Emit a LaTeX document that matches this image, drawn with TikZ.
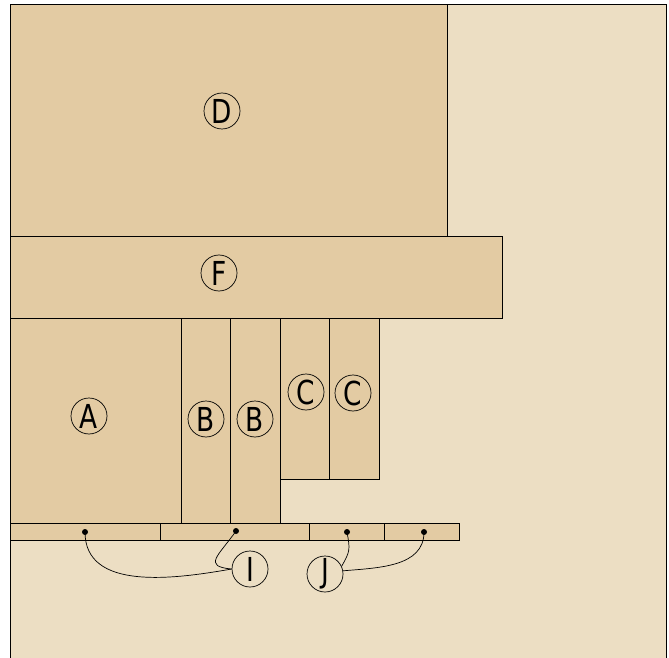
\documentclass[tikz,border=0pt]{standalone}
\usepackage{fontspec}
\newfontfamily\lblfont[FakeStretch=0.8]{DejaVu Sans}
\definecolor{boardtan}{RGB}{227,203,163}
\definecolor{groundtan}{RGB}{236,222,195}
\tikzset{
    part/.style={draw=black, fill=boardtan, line width=0.8pt},
    tag/.style={draw, circle, line width=0.7pt, minimum size=36pt, inner sep=0pt, font=\lblfont\fontsize{33}{33}\selectfont},
    pin/.style={circle, fill=black, inner sep=0pt, minimum size=6pt},
    link/.style={line width=0.7pt}
}
\begin{document}
\begin{tikzpicture}[x=1pt, y=1pt]
                        \useasboundingbox (0,0) rectangle (669,657);
                        \begin{scope}
                        \clip (0,0) rectangle (669,657);
                        \draw[fill=groundtan, line width=0.8pt] (10,-5) rectangle (666,653);
                        \end{scope}
                        \draw[part] (10,421) rectangle (447,653);
                        \draw[part] (10,339) rectangle (502,421);
                        \draw[part] (10,134) rectangle (181,339);
                        \draw[part] (181,134) rectangle (230,339);
                        \draw[part] (230,134) rectangle (280,339);
                        \draw[part] (280,178) rectangle (329,339);
                        \draw[part] (329,178) rectangle (379,339);
                        \draw[part] (10,117) rectangle (160,134);
                        \draw[part] (160,117) rectangle (309,134);
                        \draw[part] (309,117) rectangle (384,134);
                        \draw[part] (384,117) rectangle (459,134);
                        \node[tag] (D) at (222,546) {D};
                        \node[tag] (F) at (219,384) {F};
                        \node[tag] (A) at (89,241) {A};
                        \node[tag] (B1) at (206,238) {B};
                        \node[tag] (B2) at (255,238) {B};
                        \node[tag] (C1) at (306,265) {C};
                        \node[tag] (C2) at (353,264) {C};
                        \node[tag] (I) at (250,88) {I};
                        \node[tag] (J) at (325,83) {J};
                        \node[pin] (p1) at (85,125) {};
                        \node[pin] (p2) at (236,126) {};
                        \node[pin] (p3) at (347,125) {};
                        \node[pin] (p4) at (424,125) {};
                        \draw[link] (p1.center) to[out=-90, in=190] (I.west);
                        \draw[link] (p2.center) to[out=-125, in=175, looseness=2] (I.west);
                        \draw[link] (p3.center) to[out=-80, in=60, looseness=1.3] (J.25);
                        \draw[link] (p4.center) to[out=-90, in=5] (J.10);
                    \end{tikzpicture}
\end{document}
